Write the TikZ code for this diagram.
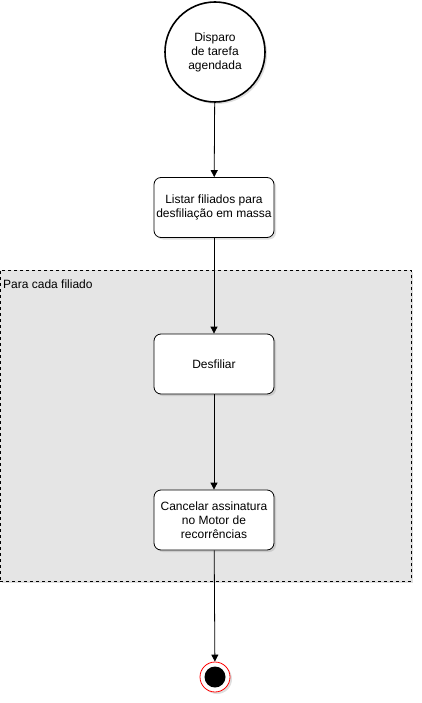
\documentclass[tikz,border=0pt]{standalone}
\usepackage{fontspec}
\setmainfont{Liberation Sans}
\usetikzlibrary{arrows.meta,shadows}
\begin{document}
\begin{tikzpicture}[x=1pt,y=-1pt,
  every node/.style={font=\fontsize{12}{14}\selectfont},
  shd/.style={drop shadow={opacity=0.25,shadow xshift=2pt,shadow yshift=-2pt}},
  stepbox/.style={draw,line width=0.8pt,fill=white,rounded corners=7pt,minimum width=120pt,minimum height=60pt,align=center,inner sep=2pt,shd},
  flow/.style={draw,line width=0.8pt,-{Triangle[length=7pt,width=7pt]}}]
\useasboundingbox (0,0) rectangle (422,703);
\node[draw,fill=black!10,dashed,line width=0.8pt,minimum width=411pt,minimum height=311pt,anchor=north west,inner sep=0pt,drop shadow={opacity=0.25,shadow xshift=2pt,shadow yshift=-2pt}] (grp) at (0,270) {};
\node[anchor=west,inner sep=0pt] (grplabel) at (3,284.5) {Para cada filiado};
\node[draw,circle,line width=1.6pt,fill=white,minimum size=100pt,align=center,inner sep=0pt,shd] (start) at (215,52) {Disparo\\de tarefa\\agendada};
\node[stepbox] (list) at (214,207.5) {Listar filiados para\\desfiliação em massa};
\node[stepbox] (desf) at (214,364) {Desfiliar};
\node[stepbox] (canc) at (214,520) {Cancelar assinatura\\no Motor de\\recorrências};
\node[draw=red,circle,line width=0.8pt,fill=white,minimum size=30pt,inner sep=0pt,shd] (end) at (215,677) {};
\node[circle,fill=black,minimum size=21pt,inner sep=0pt] (endin) at (end) {};
\draw[flow] (start) -- (list);
\draw[flow] (list) -- (desf);
\draw[flow] (desf) -- (canc);
\draw[flow] (canc) -- (end);
\end{tikzpicture}
\end{document}
